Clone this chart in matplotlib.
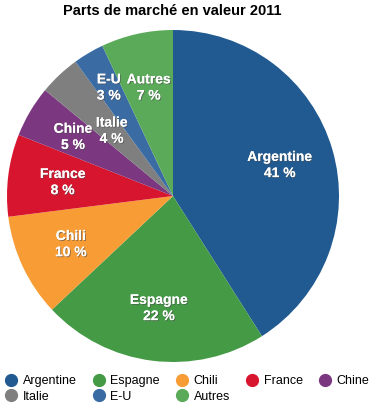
import numpy as np
import matplotlib.pyplot as plt
import matplotlib.patheffects as pe
from matplotlib.lines import Line2D

plt.rcParams['font.family'] = ['Liberation Sans', 'DejaVu Sans']

categories = ['Argentine', 'Espagne', 'Chili', 'France', 'Chine', 'Italie', 'E-U', 'Autres']
shares = [41, 22, 10, 8, 5, 4, 3, 7]
colors = ['#215a91', '#459a46', '#f89c36', '#d8152f', '#7b3780', '#7f7f7f', '#3a6ca3', '#5aaa5a']
# how far out each label sits (fraction of radius)
label_r = [0.67, 0.68, 0.68, 0.67, 0.70, 0.54, 0.76, 0.67]

W, H = 382, 409
fig = plt.figure(figsize=(W / 100, H / 100), dpi=100)
# pie: centre (173, 196) px, radius 166 px
ax = fig.add_axes([7 / W, (H - 362) / H, 332 / W, 332 / H])

wedges, _ = ax.pie(shares, colors=colors, startangle=90, counterclock=False,
                   wedgeprops=dict(linewidth=0))
for w, c, s, r in zip(wedges, categories, shares, label_r):
    ang = np.deg2rad((w.theta1 + w.theta2) / 2)
    ax.text(r * np.cos(ang), r * np.sin(ang), f'{c}\n{s} %', color='white',
            fontweight='bold', fontsize=10, ha='center', va='center',
            multialignment='center', linespacing=1.2,
            path_effects=[pe.withSimplePatchShadow(offset=(0.7, -0.7), alpha=0.6),
                          pe.Normal()])
ax.set_xlim(-1, 1)
ax.set_ylim(-1, 1)
ax.set_aspect('equal')

fig.text(0.45, 0.99, 'Parts de marché en valeur 2011', ha='center', va='top',
         fontsize=10.5, fontweight='bold')

# legend is row-major in the reference; matplotlib fills column by column
order = [0, 5, 1, 6, 2, 7, 3, 4]
handles = [Line2D([], [], marker='o', linestyle='', markersize=8.5,
                  markerfacecolor=colors[i], markeredgecolor=colors[i]) for i in order]
fig.legend(handles, [categories[i] for i in order], loc='lower left',
           bbox_to_anchor=(-0.019, -0.012),
           ncol=5, frameon=False, fontsize=9, handletextpad=0.3, columnspacing=1.2,
           labelspacing=0.3, handlelength=1.2)

fig.savefig('out.png', dpi=100)
